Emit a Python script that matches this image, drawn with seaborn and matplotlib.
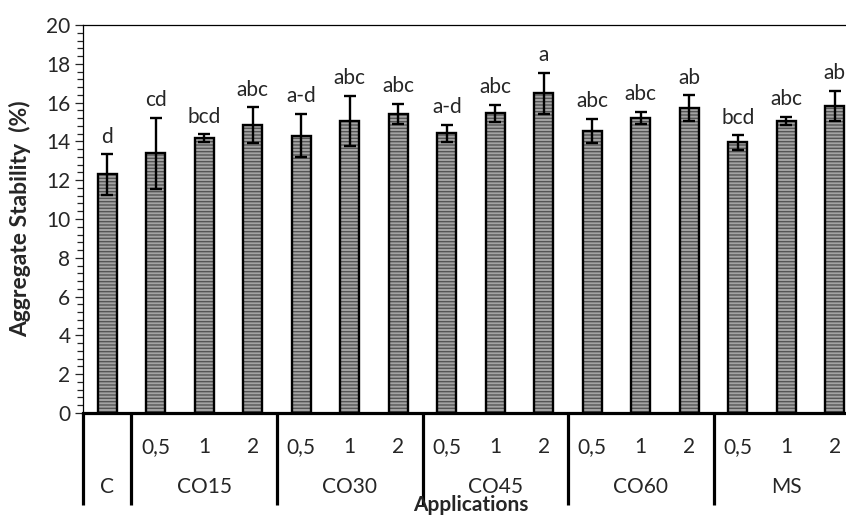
import numpy as np
import pandas as pd
import seaborn as sns
from matplotlib import pyplot as plt
from matplotlib import transforms as mtransforms
from matplotlib.ticker import MultipleLocator

# data
groups = ['C', 'CO15', 'CO30', 'CO45', 'CO60', 'MS']
group_sizes = [1, 3, 3, 3, 3, 3]
doses = ['', '0,5', '1', '2', '0,5', '1', '2', '0,5', '1', '2',
         '0,5', '1', '2', '0,5', '1', '2']
means = [12.3, 13.38, 14.18, 14.83, 14.3, 15.05, 15.43, 14.42, 15.45, 16.48,
         14.55, 15.22, 15.7, 13.95, 15.07, 15.84]
sds = [1.05, 1.85, 0.2, 0.93, 1.12, 1.3, 0.52, 0.44, 0.43, 1.07,
       0.62, 0.3, 0.67, 0.38, 0.2, 0.77]
letters = ['d', 'cd', 'bcd', 'abc', 'a-d', 'abc', 'abc', 'a-d', 'abc', 'a',
           'abc', 'abc', 'ab', 'bcd', 'abc', 'ab']

treat = []
for g, n in zip(groups, group_sizes):
    for k in range(n):
        treat.append(f'{g} {len(treat)}')
df = pd.DataFrame({'treatment': treat, 'stability': means})

sns.set_style('white')
plt.rcParams['font.family'] = ['Lato', 'DejaVu Sans']
plt.rcParams['hatch.linewidth'] = 1.0

fig = plt.figure(figsize=(8.46, 5.18), dpi=100)
ax = fig.add_axes([0.0981, 0.2027, 0.9173, 0.749])

# hatched fill
sns.barplot(data=df, x='treatment', y='stability', color='#a4a4a4',
            width=0.39, linewidth=0, errorbar=None, ax=ax)
for p in ax.patches:
    p.set_hatch('-----')
    p.set_edgecolor('#555555')
# black outline
sns.barplot(data=df, x='treatment', y='stability', color='black', fill=False,
            width=0.39, linewidth=1.7, errorbar=None, ax=ax)

x = np.arange(len(means))
ax.errorbar(x, means, yerr=sds, fmt='none', ecolor='black',
            elinewidth=1.7, capsize=4.3, capthick=1.7, zorder=5)

for xi, m, s, lab in zip(x, means, sds, letters):
    ax.text(xi, m + s + 0.9, lab, ha='center', va='center', fontsize=15)

ax.set_xlim(-0.5, len(means) - 0.5)
ax.set_ylim(0, 20)
ax.yaxis.set_major_locator(MultipleLocator(2))
ax.yaxis.set_minor_locator(MultipleLocator(0.4))
ax.tick_params(axis='y', which='major', left=True, direction='out',
               length=6, width=0.9, labelsize=15, pad=3)
ax.tick_params(axis='y', which='minor', left=True, direction='out',
               length=4.5, width=0.9)
ax.set_xticks([])
ax.set_xlabel('')

for side in ['left', 'top']:
    ax.spines[side].set_linewidth(0.9)
    ax.spines[side].set_color('black')
ax.spines['right'].set_visible(False)
ax.spines['bottom'].set_linewidth(2.3)
ax.spines['bottom'].set_color('black')

# multi-level category axis
trans = mtransforms.blended_transform_factory(ax.transData, ax.transAxes)
for xi, d in zip(x, doses):
    ax.text(xi, -0.088, d, transform=trans, ha='center', va='center',
            fontsize=15)
edges = np.concatenate([[0], np.cumsum(group_sizes)]) - 0.5
for g, lo, hi in zip(groups, edges[:-1], edges[1:]):
    ax.text((lo + hi) / 2, -0.19, g, transform=trans, ha='center',
            va='center', fontsize=15)
for e in edges[:-1]:
    ax.plot([e, e], [0, -0.237], transform=trans, color='black', lw=2.3,
            clip_on=False, solid_capstyle='butt')

ax.text(0.5, -0.264, 'Applications', transform=ax.transAxes, ha='center',
        va='bottom', fontsize=15, fontweight='bold')
ax.set_ylabel('Aggregate Stability  (%)', fontsize=16.5, fontweight='bold')
ax.yaxis.set_label_coords(-0.067, 0.5)

fig.savefig('out.png', dpi=100)
